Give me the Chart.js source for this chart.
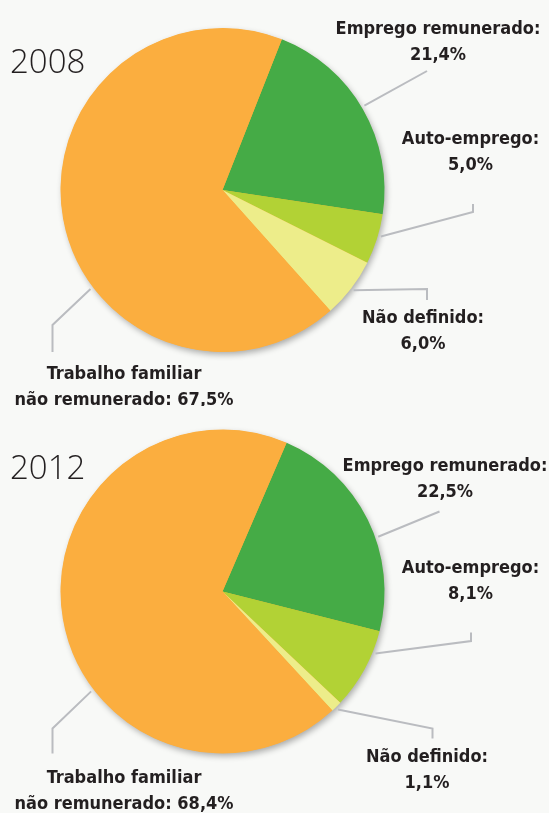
<!DOCTYPE html>
<html>
<head>
<meta charset="utf-8">
<script src="https://cdn.jsdelivr.net/npm/chart.js@4/dist/chart.umd.min.js"></script>
<style>
    body { margin: 0; background: #f8f9f7; width: 549px; height: 813px; overflow: hidden; }
    canvas { display: block; }
</style>
</head>
<body>
<canvas id="pie2008" width="549" height="406"></canvas>
<canvas id="pie2012" width="549" height="407"></canvas>
<script>
const categories = ['Emprego remunerado', 'Auto-emprego', 'Não definido', 'Trabalho familiar não remunerado'];
const years = ['2008', '2012'];
const values2008 = [21.4, 5.0, 6.0, 67.5];
const values2012 = [22.5, 8.1, 1.1, 68.4];

const sliceColors = ['#45ab46', '#b2d235', '#eded8a', '#fbae3f'];
const textColor = '#231f20';
const leaderColor = '#babcc0';

// per-chart placement of the pie, the year and the callouts (canvas pixels)
const layouts = [
    {
        rotation: 21.5, padBottom: 26, yearY: 73,
        labels: [[438, 33.5], [470.5, 144], [423, 323], [124, 379]],
        leaders: [
            { frac: 0.49, pts: [[427, 71]] },
            { frac: 0.43, pts: [[473, 212], [473, 204]] },
            { frac: 0.5, pts: [[427, 289], [427, 300]] },
            { frac: 0.39, pts: [[52.5, 325], [52.5, 352]] }
        ]
    },
    {
        rotation: 23.3, padBottom: 36, yearY: 73,
        labels: [[445, 65], [470.5, 166.5], [427, 355.5], [124, 376.5]],
        leaders: [
            { frac: 0.585, pts: [[439.5, 105.5]] },
            { frac: 0.27, pts: [[471, 235], [471, 226.5]] },
            { frac: 0.57, pts: [[432.5, 322.5], [432.5, 332.5]] },
            { frac: 0.388, pts: [[52.5, 322.5], [52.5, 347.5]] }
        ]
    }
];

function fmt(v) {
    return v.toFixed(1).replace('.', ',') + '%';
}

function labelLines(name, value) {
    const i = name.indexOf(' não');
    if (i > 0) {
        return [name.slice(0, i), name.slice(i + 1) + ': ' + fmt(value)];
    }
    return [name + ':', fmt(value)];
}

const pieShadow = {
    id: 'pieShadow',
    beforeDatasetsDraw(chart) {
        const arc = chart.getDatasetMeta(0).data[0];
        if (!arc) return;
        const ctx = chart.ctx;
        ctx.save();
        ctx.shadowColor = 'rgba(0, 0, 0, 0.32)';
        ctx.shadowBlur = 6;
        ctx.shadowOffsetX = 2;
        ctx.shadowOffsetY = 3;
        ctx.fillStyle = '#fbae3f';
        ctx.beginPath();
        ctx.arc(arc.x, arc.y, arc.outerRadius - 0.5, 0, Math.PI * 2);
        ctx.fill();
        ctx.restore();
    }
};

const callouts = {
    id: 'callouts',
    afterDraw(chart, args, opts) {
        const ctx = chart.ctx;
        const meta = chart.getDatasetMeta(0);
        const values = chart.data.datasets[0].data;
        const lay = opts.layout;

        ctx.save();
        // leader lines
        ctx.strokeStyle = leaderColor;
        ctx.lineWidth = 2;
        meta.data.forEach((arc, i) => {
            const ld = lay.leaders[i];
            const a = arc.startAngle + ld.frac * (arc.endAngle - arc.startAngle);
            const r = arc.outerRadius + 3;
            ctx.beginPath();
            ctx.moveTo(arc.x + Math.cos(a) * r, arc.y + Math.sin(a) * r);
            ld.pts.forEach(p => ctx.lineTo(p[0], p[1]));
            ctx.stroke();
        });

        // labels
        ctx.fillStyle = textColor;
        ctx.textAlign = 'center';
        ctx.textBaseline = 'alphabetic';
        ctx.font = 'bold 18px "DejaVu Sans Condensed", "Liberation Sans", sans-serif';
        chart.data.labels.forEach((name, i) => {
            const [x, y] = lay.labels[i];
            labelLines(name, values[i]).forEach((line, k) => {
                ctx.fillText(line, x, y + k * 26);
            });
        });

        // year
        ctx.textAlign = 'left';
        ctx.font = '300 33px "Open Sans", "DejaVu Sans", sans-serif';
        ctx.fillText(opts.year, 10, lay.yearY);
        ctx.restore();
    }
};

function drawPie(canvasId, year, values, lay) {
    const ctx = document.getElementById(canvasId);
    return new Chart(ctx, {
        type: 'pie',
        data: {
            labels: categories,
            datasets: [{
                data: values,
                backgroundColor: sliceColors,
                borderWidth: 0,
                radius: 162
            }]
        },
        options: {
            responsive: false,
            animation: false,
            events: [],
            rotation: lay.rotation,
            layout: {
                padding: { left: 0, right: 104, top: 0, bottom: lay.padBottom }
            },
            plugins: {
                legend: { display: false },
                tooltip: { enabled: false },
                callouts: { layout: lay, year: year }
            }
        },
        plugins: [pieShadow, callouts]
    });
}

drawPie('pie2008', years[0], values2008, layouts[0]);
drawPie('pie2012', years[1], values2012, layouts[1]);
</script>
</body>
</html>
